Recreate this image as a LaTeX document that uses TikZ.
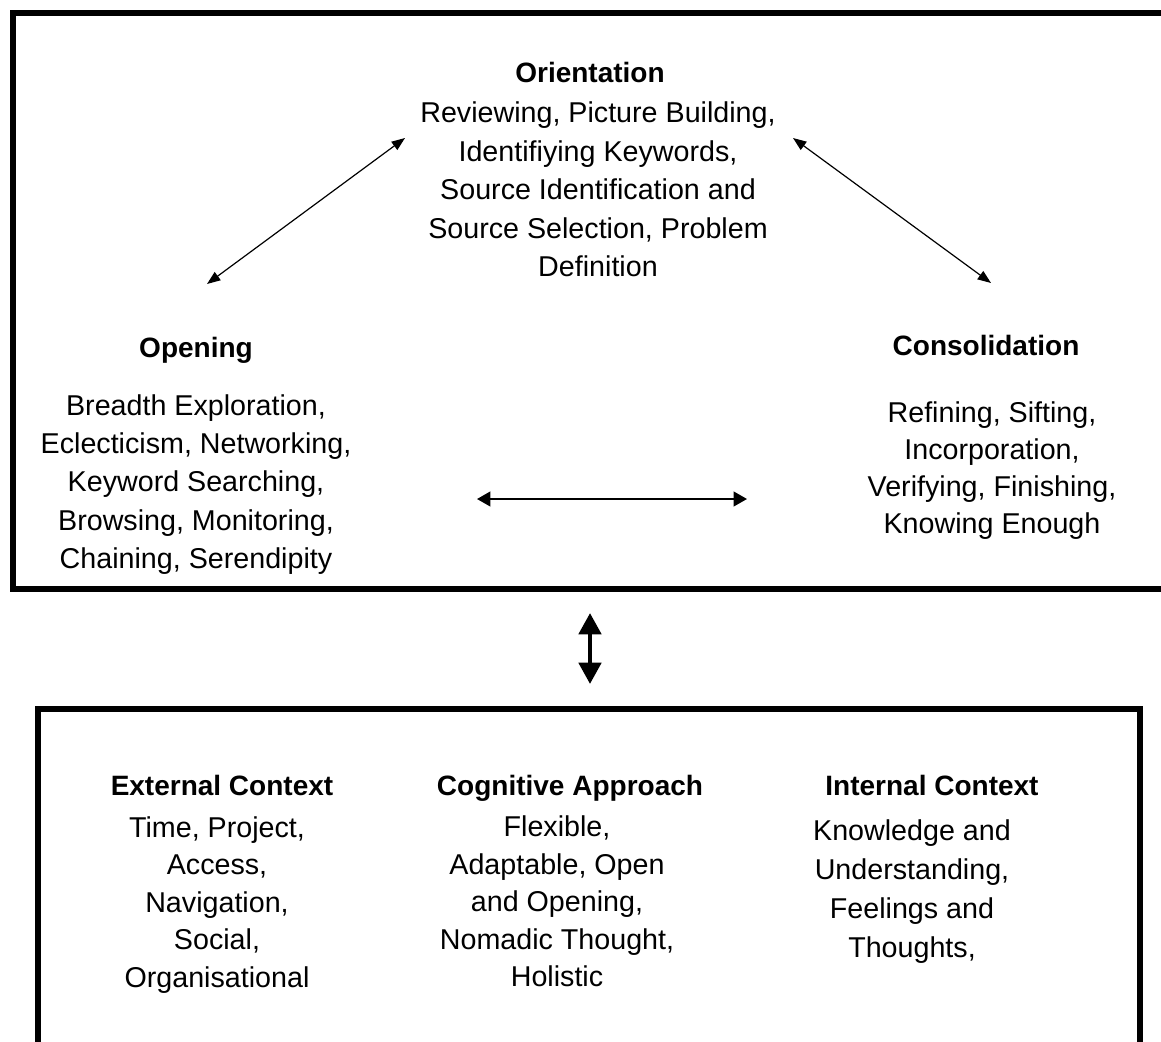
\documentclass[tikz,border=0pt]{standalone}
\usepackage{fontspec}
\setmainfont{Liberation Sans}
\usetikzlibrary{arrows.meta}
\begin{document}
\begin{tikzpicture}[x=0.75pt,y=-0.75pt,
  head/.style={font=\fontsize{21}{28}\selectfont\bfseries, inner sep=0pt, anchor=base},
  body/.style={font=\fontsize{21.5}{28.8}\selectfont, align=center, inner sep=0pt, anchor=center},
  frame/.style={draw=black, line width=4.5pt},
  thinarrow/.style={line width=0.9pt, {Triangle[length=10pt,width=7.5pt]}-{Triangle[length=10pt,width=7.5pt]}},
  midarrow/.style={line width=1.5pt, {Triangle[length=10pt,width=11pt]}-{Triangle[length=10pt,width=11pt]}},
  bigarrow/.style={line width=3.5pt, {Triangle[length=16pt,width=16.5pt]}-{Triangle[length=16pt,width=16.5pt]}}
]
\useasboundingbox (0,0) rectangle (1161,1042);
\fill[white] (0,0) rectangle (1161,1042);
% frames
\draw[frame] (13,13) rectangle (1166,589);
\draw[frame, line width=3.8pt] (38,709) rectangle (1140,1046);

% top box texts
\node[head] (orh) at (590,82) {Orientation};
\node[body] (orb) at (598,189.5) {Reviewing, Picture Building,\\Identifiying Keywords,\\Source Identification and\\Source Selection, Problem\\Definition};
\node[head] (oph) at (196,357) {Opening};
\node[body] (opb) at (196,484.5) {Breadth Exploration,\\Eclecticism, Networking,\\Keyword Searching,\\Browsing, Monitoring,\\Chaining, Serendipity};
\node[head] (coh) at (986,355) {Consolidation};
\node[body, font=\fontsize{21.5}{27.8}\selectfont] (cob) at (992,470.5) {Refining, Sifting,\\Incorporation,\\Verifying, Finishing,\\Knowing Enough};

% bottom box texts
\node[head] (exh) at (222,795) {External Context};
\node[body, font=\fontsize{21.5}{28.1}\selectfont] (exb) at (217,905) {Time, Project,\\Access,\\Navigation,\\Social,\\Organisational};
\node[head] (cgh) at (570,795) {Cognitive Approach};
\node[body, font=\fontsize{21.5}{28.1}\selectfont] (cgb) at (557,901.5) {Flexible,\\Adaptable, Open\\and Opening,\\Nomadic Thought,\\Holistic};
\node[head] (inh) at (932,795) {Internal Context};
\node[body, font=\fontsize{21.5}{29.2}\selectfont] (inb) at (912,891.5) {Knowledge and\\Understanding,\\Feelings and\\Thoughts,};

% arrow end points
\coordinate (aL1) at (207,284);
\coordinate (aL2) at (405,138);
\coordinate (aR1) at (793,138);
\coordinate (aR2) at (991,283);
\coordinate (aH1) at (477,499);
\coordinate (aH2) at (747,499);
\coordinate (aV1) at (590,613);
\coordinate (aV2) at (590,684);

\draw[thinarrow] (aL1) -- (aL2);
\draw[thinarrow] (aR1) -- (aR2);
\draw[midarrow] (aH1) -- (aH2);
\draw[bigarrow] (aV1) -- (aV2);
\end{tikzpicture}
\end{document}
